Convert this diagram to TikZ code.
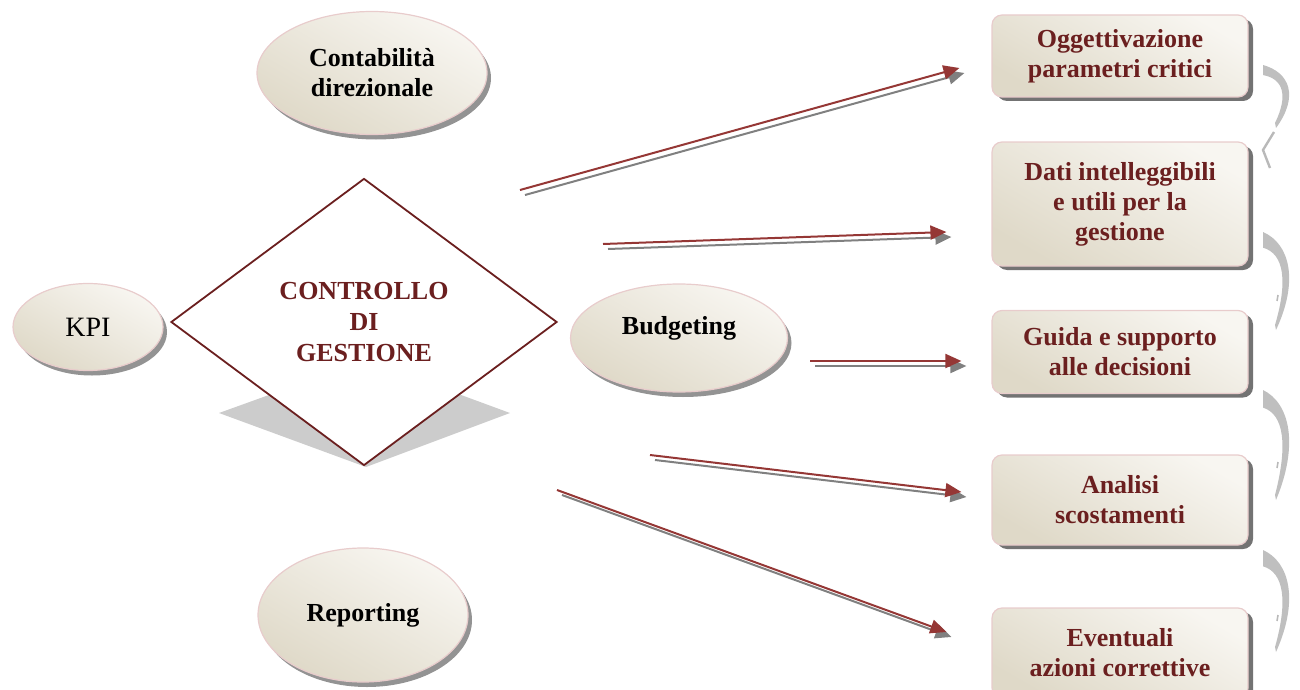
\documentclass[tikz,border=0pt]{standalone}
\usepackage{fontspec}
\setmainfont{Liberation Serif}
\usepackage{color}
\usepackage{tikz}
\usetikzlibrary{shapes.geometric,shadows,arrows.meta}

\definecolor{darkred}{RGB}{107,31,31}
\definecolor{arrowred}{RGB}{149,55,53}
\definecolor{arrowgrey}{RGB}{128,128,128}
\definecolor{beigelight}{RGB}{248,246,241}
\definecolor{beigedark}{RGB}{223,217,200}
\definecolor{pinkline}{RGB}{232,204,204}

\tikzset{
  oval/.style={ellipse, draw=pinkline, line width=.6pt, inner sep=0pt,
    top color=beigelight, bottom color=beigedark, shading angle=-30,
    drop shadow={shadow xshift=2pt, shadow yshift=-2.5pt, fill=black!50, opacity=.85},
    font=\fontsize{13}{15}\selectfont\bfseries, align=center},
  card/.style={rectangle, rounded corners=5pt, draw=pinkline, line width=.6pt,
    top color=beigelight, bottom color=beigedark, shading angle=-30,
    drop shadow={shadow xshift=2.5pt, shadow yshift=-2pt, fill=black!55, opacity=1},
    minimum width=128pt, align=center, inner sep=0pt,
    font=\fontsize{13}{15}\selectfont\bfseries, text=darkred},
  flow/.style={draw=arrowred, line width=1pt, -{Triangle[length=8pt,width=7pt]}},
  flowshade/.style={draw=arrowgrey, line width=1pt, -{Triangle[length=8pt,width=7pt]},
    transform canvas={xshift=2.5pt,yshift=-2.5pt}},
  curlfill/.style={fill=gray!50},
  curlline/.style={draw=gray!55, line width=1.2pt}
}

\begin{document}
\begin{tikzpicture}[x=.5pt,y=-.5pt]
  \clip (0,0) rectangle (1300,690);

  % left side
  \node[oval, minimum width=115pt, minimum height=61.5pt] (contab) at (372,73) {Contabilit\`a\\direzionale};
  \node[oval, minimum width=75pt, minimum height=43.5pt, font=\fontsize{14}{16}\selectfont] (kpi) at (88,327) {KPI};
  \node[oval, minimum width=105pt, minimum height=67pt] (report) at (363,615) {Reporting};

  \fill[gray!40] (219,413) -- (366,360) -- (510,413) -- (366,467) -- cycle;
  \node[diamond, draw=darkred, line width=.9pt, fill=white, inner sep=0pt,
        minimum width=193pt, minimum height=143.5pt, align=center,
        font=\fontsize{13}{15.5}\selectfont\bfseries, text=darkred] (cdg) at (364,322) {CONTROLLO\\DI\\GESTIONE};

  \node[oval, minimum width=108.5pt, minimum height=54pt, text depth=13pt] (budget) at (679,338) {Budgeting};

  % right side
  \node[card, minimum height=41pt] (box1) at (1120,56) {Oggettivazione\\parametri critici};
  \node[card, minimum height=62pt] (box2) at (1120,204) {Dati intelleggibili\\e utili per la\\gestione};
  \node[card, minimum height=41.5pt] (box3) at (1120,352) {Guida e supporto\\alle decisioni};
  \node[card, minimum height=45pt] (box4) at (1120,500) {Analisi\\scostamenti};
  \node[card, minimum height=45pt] (box5) at (1120,653) {Eventuali\\azioni correttive};

  % arrows
  \coordinate (s1) at (520,190);
  \coordinate (s2) at (603,244);
  \coordinate (s3) at (810,361);
  \coordinate (s4) at (650,455);
  \coordinate (s5) at (557,490);
  \coordinate (e1) at ([shift={(-32,12)}]box1.west);
  \coordinate (e2) at ([shift={(-45,28)}]box2.west);
  \coordinate (e3) at ([shift={(-30,9)}]box3.west);
  \coordinate (e4) at ([shift={(-30,-8)}]box4.west);
  \coordinate (e5) at ([shift={(-45,-21)}]box5.west);
  \foreach \s/\e in {s1/e1,s2/e2,s3/e3,s4/e4,s5/e5}{
    \draw[flowshade] (\s) -- (\e);
    \draw[flow] (\s) -- (\e);
  }

  % curls between the boxes
  \foreach \t/\b in {65/128,232/330,390/500,550/652}{
    \pgfmathsetmacro\h{\b-\t}
    \fill[curlfill] (1263,\t) .. controls (1290,\t+.12*\h) and (1299,\t+.5*\h) .. (1276,\b)
      -- (1275,\b-5) .. controls (1288,\t+.5*\h) and (1284,\t+.22*\h) .. (1263,\t+.16*\h) -- cycle;
  }
  \draw[curlline] (1274,132) -- (1263,150) -- (1270,168);
  \foreach \y in {295,462,615}
    \draw[curlline, line width=.8pt] (1278,\y) -- (1277,\y+6);
\end{tikzpicture}
\end{document}
